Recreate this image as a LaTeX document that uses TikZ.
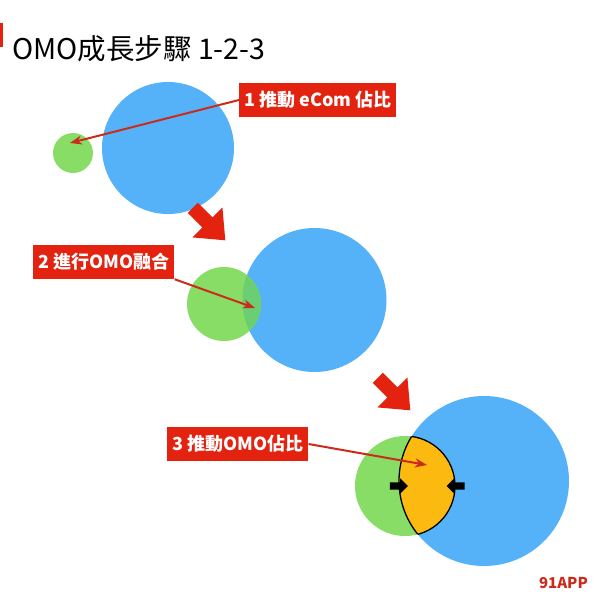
\documentclass[tikz,border=0pt]{standalone}
\usepackage{fontspec}
\setmainfont{Noto Sans CJK TC}
\usetikzlibrary{shapes.arrows,arrows.meta}
\definecolor{omoblue}{HTML}{55B2F8}
\definecolor{omogreen}{HTML}{88DD66}
\definecolor{mixgreen}{HTML}{6CCE72}
\definecolor{omoorange}{HTML}{FCB90F}
\definecolor{omored}{HTML}{E3230F}
\definecolor{linered}{HTML}{CC2B1B}
\begin{document}
\begin{tikzpicture}[x=1pt,y=-1pt,line join=round,>=Stealth,
  tag/.style={fill=omored,text=white,font=\bfseries\fontsize{18}{20}\selectfont,minimum height=34pt,inner xsep=5pt,inner ysep=0pt,anchor=west},
  blob/.style={circle,inner sep=0pt,minimum size=#1},
  bigarrow/.style={single arrow,fill=omored,rotate=-45,inner sep=7pt,minimum height=46pt,single arrow head extend=14pt,single arrow tip angle=80},
  pusharrow/.style={single arrow,fill=black,inner sep=3.5pt,minimum height=18pt,single arrow head extend=4pt,single arrow tip angle=90},
  pointer/.style={->,draw=linered,line width=2pt}]
\def \rblue{85};
\def \rgreen{50};
\useasboundingbox (0,0) rectangle (600,600);
% title
\fill[omored] (0,23) rectangle (3,47);
\node[anchor=base west,inner sep=0pt,font=\fontsize{28.5}{30}\selectfont] (title) at (12,59) {OMO成長步驟 1-2-3};
% step 1
\node[blob=132pt,fill=omoblue] (b1) at (168,148) {};
\node[blob=40pt,fill=omogreen] (g1) at (73,153) {};
\node[tag] (t1) at (239,100) {1 推動 eCom 佔比};
\coordinate (p1) at (70,143);
\draw[pointer] (t1.west) -- (p1);
\node[bigarrow] (a1) at (206,221) {};
% step 2
\node[blob=144pt,fill=omoblue] (b2) at (314.5,300) {};
\node[blob=74pt,fill=omogreen] (g2) at (224,304) {};
\begin{scope}
  \clip (b2.center) circle[radius=72pt];
  \fill[mixgreen] (g2.center) circle[radius=37pt];
\end{scope}
\node[tag] (t2) at (33,262) {2 進行OMO融合};
\coordinate (p2) at (255,308);
\draw[pointer] (t2.south east) -- (p2);
\node[bigarrow] (a2) at (391,391) {};
% step 3
\node[blob=170pt,fill=omoblue] (b3) at (484,481) {};
\node[blob=100pt,fill=omogreen] (g3) at (405,486) {};
\begin{scope}
  \clip (b3.center) circle[radius=\rblue pt];
  \fill[omoorange] (g3.center) circle[radius=\rgreen pt];
  \draw[line width=1.3pt] (g3.center) circle[radius=\rgreen pt];
\end{scope}
\begin{scope}
  \clip (g3.center) circle[radius=\rgreen pt];
  \draw[line width=1.3pt] (b3.center) circle[radius=\rblue pt];
\end{scope}
\node[pusharrow] (k1) at (397,486) {};
\node[pusharrow,rotate=180] (k2) at (457.5,486) {};
\node[tag] (t3) at (167,444) {3 推動OMO佔比};
\coordinate (p3) at (427,465);
\draw[pointer] (t3.east) -- (p3);
% logo
\node[anchor=base east,inner sep=0pt,text=linered,font=\bfseries\fontsize{15}{16}\selectfont] (logo) at (588,588) {91APP};
\end{tikzpicture}
\end{document}
